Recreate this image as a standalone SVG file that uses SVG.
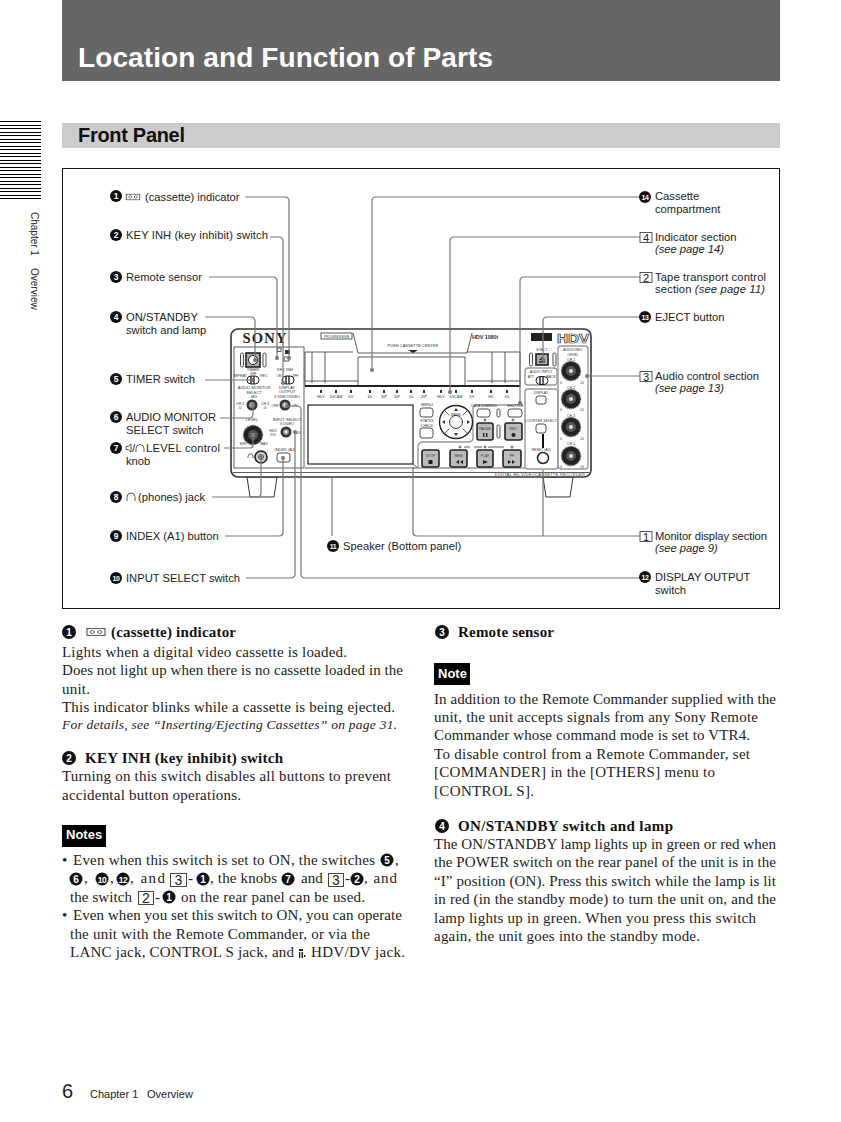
<svg xmlns="http://www.w3.org/2000/svg" xmlns:xlink="http://www.w3.org/1999/xlink" width="841" height="1122" viewBox="0 0 841 1122">
<style>
text{font-family:"Liberation Sans",Arial,sans-serif;fill:#222}
.l{font-size:11.200px}
.li{font-size:11.200px;font-style:italic}
.b{font-family:"Liberation Serif","Times New Roman",serif;font-size:15px}
.bb{font-family:"Liberation Serif","Times New Roman",serif;font-size:15px;font-weight:bold;fill:#111}
.bi{font-family:"Liberation Serif","Times New Roman",serif;font-size:13.500px;font-style:italic}
.n{font-size:8.500px;font-weight:bold;fill:#fff;text-anchor:middle}
.nb{font-size:10px;font-weight:bold;fill:#fff;text-anchor:middle}
.nc{font-size:7px;font-weight:bold;fill:#fff;text-anchor:middle;letter-spacing:-.5px}
.d{font-size:4px;fill:#333;text-anchor:middle}
.ds{font-size:3.500px;fill:#333;text-anchor:middle}
.box{fill:#fff;stroke:#444;stroke-width:.9}
.boxb{fill:#fff;stroke:#444;stroke-width:1}
.ln{fill:none;stroke:#333;stroke-width:.8}
.lnt{fill:none;stroke:#222;stroke-width:1.200}
.pan{fill:none;stroke:#999;stroke-width:1.400}
.c{fill:none;stroke:#777;stroke-width:1.200}
.dot{fill:#777}
.bar{stroke:#000;stroke-width:1}
.btn{fill:#fff;stroke:#333;stroke-width:.9}
.btnd{fill:#bbb;stroke:#222;stroke-width:1.600}
</style>
<defs>
<g id="knob"><circle r="5.500" fill="#333"/><circle r="3" fill="#999"/><circle r="1.400" fill="#eee"/></g>
<g id="kb"><circle r="9.500" fill="#222" stroke="#555" stroke-dasharray="1.200 .8" stroke-width="1.400"/><circle r="5" fill="#555"/><circle r="2" fill="#ddd"/></g>
<g id="sw"><rect x="-6" y="-4" width="12" height="8" rx="4" fill="#fff" stroke="#222" stroke-width="1"/><path d="M-2-4V4M1-4V4" stroke="#222" stroke-width="1.400"/></g>
<g id="cas"><rect x="-7.500" y="-3.500" width="15" height="7" fill="none" stroke="#333" stroke-width=".8"/><circle cx="-3" r="1.600" fill="none" stroke="#333" stroke-width=".7"/><circle cx="3" r="1.600" fill="none" stroke="#333" stroke-width=".7"/></g>
</defs>
<rect width="841" height="1122" fill="#fff"/>

<g id="page-header">
<rect x="62" y="0" width="718" height="81" fill="#666"/>
<text x="78" y="67" font-size="28" font-weight="bold" style="fill:#fff" textLength="415">Location and Function of Parts</text>
<rect x="62" y="123" width="718" height="25" fill="#ccc"/>
<text x="78" y="142" font-size="20" font-weight="bold" style="fill:#111" textLength="107">Front Panel</text>
<path class="bar" d="M0 121.500H41M0 125.500H41M0 128.500H41M0 132.500H41M0 135.500H41M0 139.500H41M0 142.500H41M0 146.500H41M0 149.500H41M0 153.500H41M0 156.500H41M0 160.500H41M0 163.500H41M0 167.500H41M0 170.500H41M0 174.500H41M0 177.500H41M0 181.500H41M0 184.500H41M0 188.500H41M0 191.500H41M0 195.500H41M0 198.500H41"/>
<text transform="translate(31 212) rotate(90)" font-size="10">Chapter 1<tspan x="56">Overview</tspan></text>
<rect x="62.500" y="168.500" width="717" height="440" fill="none" stroke="#111" stroke-width="1"/>
</g>

<g id="device">
<path d="M247 477l3 20h24l3-20zM543 477l3 20h24l3-20z" fill="#fff" stroke="#333" stroke-width="1"/>
<rect x="231" y="329" width="360" height="148" rx="7" fill="#fff" stroke="#333" stroke-width="1.600"/>
<path class="ln" d="M233 472.500H589"/>
<rect x="234" y="347" width="70" height="121" class="ln"/>
<text x="265" y="343" font-size="14.500" font-weight="bold" text-anchor="middle" style="font-family:'Liberation Serif',serif;letter-spacing:1px" textLength="45">SONY</text>
<rect x="321" y="333" width="31" height="6" class="ln"/>
<text x="336.500" y="338" class="ds">PROGRESSIVE</text>
<path class="ln" d="M353 333L358 353H467L472 333"/>
<path class="ln" d="M305 352H353M305 387V352M358 357V387M358 357H465V387M467 352H520M520 352V387M312 352V383M325 352V383M505 352V383M492 352V383M305 381H358M467 381H520"/>
<text x="413" y="347" class="d">PUSH CASSETTE CENTER</text>
<path d="M408 350h10l-5 3z" fill="#222"/>
<rect x="305" y="385" width="215" height="2" fill="#222"/>
<g>
<text x="321" y="397.500" class="ds">HDV</text><text x="336" y="397.500" class="ds">DVCAM</text><text x="351" y="397.500" class="ds">DV</text><text x="370" y="397.500" class="ds">60i</text><text x="384" y="397.500" class="ds">30P</text><text x="397" y="397.500" class="ds">24P</text><text x="411" y="397.500" class="ds">50i</text><text x="424" y="397.500" class="ds">25P</text><text x="441" y="397.500" class="ds">HDV</text><text x="456" y="397.500" class="ds">DVCAM</text><text x="472" y="397.500" class="ds">DV</text><text x="491" y="397.500" class="ds">HD</text><text x="507" y="397.500" class="ds">SD</text>
</g>
<path d="M320 390h2v3h-2zM335 390h2v3h-2zM350 390h2v3h-2zM369 390h2v3h-2zM383 390h2v3h-2zM396 390h2v3h-2zM410 390h2v3h-2zM423 390h2v3h-2zM440 390h2v3h-2zM455 390h2v3h-2zM471 390h2v3h-2zM490 390h2v3h-2zM506 390h2v3h-2z" fill="#333"/>
<rect x="308" y="405" width="105" height="59" class="lnt"/>
<path class="ln" d="M305 468H418M413 464L418 468"/>
<text x="472" y="338.500" font-size="5.500" font-weight="bold" style="fill:#333" textLength="26">HDV 1080i</text>
<rect x="531" y="333" width="21" height="8" fill="#222"/>
<text x="557" y="343" font-size="13" font-weight="bold" style="fill:#fff;stroke:#222;stroke-width:.7" textLength="32" lengthAdjust="spacingAndGlyphs">HDV</text>

<rect x="246" y="353" width="14" height="14" fill="#aaa" stroke="#222" stroke-width="1.600"/>
<circle cx="253" cy="360" r="4.500" fill="#fff" stroke="#222" stroke-width="1"/>
<rect x="240.500" y="353" width="3" height="14" rx="1.500" class="btn"/><rect x="263" y="353" width="3" height="14" rx="1.500" class="btn"/>
<rect x="277.500" y="348" width="3.500" height="3.500" class="ln"/><rect x="285" y="350" width="5" height="4" fill="#333"/><rect x="284" y="357" width="5" height="4" class="ln"/>
<text x="253" y="371" class="d">TIMER</text><text x="253" y="375" class="ds">OFF</text>
<text x="240" y="376.500" class="ds">REPEAT</text><text x="264" y="376.500" class="ds">REC</text>
<use xlink:href="#sw" href="#sw" x="253" y="380"/>
<text x="285" y="371" class="d">KEY INH</text><text x="279" y="376.500" class="ds">ON</text><text x="295" y="376.500" class="ds">OFF</text>
<use xlink:href="#sw" href="#sw" x="288" y="380"/>
<text x="254" y="389" class="d">AUDIO MONITOR</text><text x="254" y="393.500" class="d">SELECT</text><text x="254" y="397.500" class="ds">MIX</text>
<use xlink:href="#knob" href="#knob" x="252" y="405"/>
<text x="240" y="405" class="ds">CH-1</text><text x="240" y="409" class="ds">/2</text><text x="265" y="405" class="ds">CH-3</text><text x="265" y="409" class="ds">/4</text>
<text x="287" y="388.500" class="d">DISPLAY</text><text x="287" y="393" class="d">OUTPUT</text><text x="287" y="397.500" class="ds">S VIDEO/VIDEO</text>
<use xlink:href="#knob" href="#knob" x="285" y="405"/><text x="275" y="407" class="ds">OFF</text><text x="295" y="407" class="ds">ON</text>
<text x="287" y="421" class="d">INPUT SELECT</text><text x="287" y="425" class="ds">S VIDEO</text>
<use xlink:href="#knob" href="#knob" x="286" y="432"/><text x="273" y="432" class="ds">HDV</text><text x="273" y="436" class="ds">/DV</text><text x="298" y="434" class="ds">A/V</text>
<text x="252" y="421" class="d">LEVEL</text>
<use xlink:href="#kb" href="#kb" x="253" y="435"/><text x="243" y="445" class="ds">MIN</text><text x="264" y="445" class="ds">MAX</text>
<circle cx="261" cy="457" r="6" fill="#ccc" stroke="#222" stroke-width="1.600"/><circle cx="261" cy="457" r="2.500" fill="#fff" stroke="#333" stroke-width=".8"/>
<path class="ln" d="M248 458v-1.500a2.500 2.500 0 0 1 5 0v1.500"/>
<text x="285" y="450.500" class="d">INDEX (A1)</text><rect x="277" y="453" width="13" height="9" rx="2.500" class="btn"/>

<path class="pan" d="M473 438V409a4 4 0 0 1 4-4H523M473 438Q473 442 468 442H423Q418 442 418 447V468M418 468H526"/>
<text x="427" y="406" class="d">MENU</text><rect x="420" y="408" width="13" height="9" rx="2.500" class="btn"/>
<text x="427" y="422" class="ds">STATUS</text><text x="427" y="426.500" class="ds">CHECK</text><rect x="420" y="428" width="13" height="10" rx="2.500" class="btn"/>
<circle cx="456" cy="422" r="16.500" fill="#fff" stroke="#222" stroke-width="1.400"/><circle cx="456" cy="422" r="6.500" fill="#fff" stroke="#333" stroke-width="1"/>
<path d="M456 408l-2 3h4zM456 436l-2-3h4zM442 422l3-2v4zM470 422l-3-2v4z" fill="#333"/>
<path class="ln" d="M444.500 410.500l5 5M467.500 410.500l-5 5M444.500 433.500l5-5M467.500 433.500l-5-5"/>
<text x="456" y="416" class="ds">MARK</text>
<text x="484" y="406.500" class="ds">DATA DUBBING</text><rect x="477" y="409" width="13" height="8" rx="2.500" class="btn"/>
<rect x="497" y="409" width="3" height="8" rx="1.500" class="btn"/>
<text x="515" y="406.500" class="ds">SHUTTLE</text><rect x="508" y="409" width="14" height="8" rx="2.500" class="btn"/>
<circle cx="485" cy="420" r="1" class="ln"/><circle cx="513" cy="420" r="1" class="ln"/>
<rect x="477" y="423" width="16" height="17" rx="2" class="btnd"/><text x="485" y="430" class="ds">PAUSE</text><path d="M483 433h1.400v4H483zM486 433h1.400v4H486z" fill="#222"/>
<rect x="497" y="425" width="3" height="13" rx="1.500" class="btn"/>
<rect x="505" y="423" width="17" height="17" rx="2" class="btnd"/><text x="513.500" y="430" class="ds">REC</text><circle cx="513.500" cy="435" r="2" fill="#222"/>
<rect x="422" y="450" width="17" height="17" rx="2" class="btnd"/><text x="430.500" y="457" class="ds">STOP</text><rect x="428.500" y="460" width="4" height="4" fill="#222"/>
<rect x="450" y="450" width="17" height="17" rx="2" class="btnd"/><text x="458.500" y="457" class="ds">REW</text><path d="M459 460v4l-3-2zM463 460v4l-3-2z" fill="#222"/>
<rect x="477" y="450" width="16" height="17" rx="2" class="btnd"/><text x="485" y="457" class="ds">PLAY</text><path d="M483 460v4l5-2z" fill="#222"/>
<rect x="503" y="450" width="18" height="17" rx="2" class="btnd"/><text x="512" y="457" class="ds">FF</text><path d="M508 460v4l3-2zM512 460v4l3-2z" fill="#222"/>
<path class="ln" d="M464 447H470M474 447H482M488 447H504"/>
<circle cx="460" cy="447" r="1" class="ln"/><circle cx="485" cy="447" r="1" class="ln"/><circle cx="512" cy="447" r="1" class="ln"/>

<rect x="536" y="354" width="12" height="11" fill="#aaa" stroke="#222" stroke-width="1.600"/><path d="M539 360l3-3 3 3zM539 361h6v1.500h-6z" fill="#222"/>
<text x="542" y="351" class="ds">EJECT</text>
<rect x="529.500" y="353" width="3" height="13" rx="1.500" class="btn"/><rect x="553" y="353" width="3" height="13" rx="1.500" class="btn"/>
<rect x="525" y="368" width="32" height="17" rx="3" class="pan"/>
<text x="541" y="373" class="ds">AUDIO INPUT</text><text x="531" y="378" class="ds">ATT</text><text x="551" y="378" class="ds">BACK</text>
<use xlink:href="#sw" href="#sw" x="542" y="380.500"/>
<rect x="525" y="389" width="33" height="80" rx="3" class="pan"/>
<text x="541" y="394" class="ds">DISPLAY</text><rect x="536" y="396" width="10" height="8" rx="2.500" class="btn"/>
<text x="541" y="422" class="ds">COUNTER SELECT</text><rect x="536" y="424" width="10" height="9" rx="2.500" class="btn"/>
<rect x="542" y="434" width="2" height="14" fill="#111"/>
<text x="541" y="451" class="ds">RESET (A3)</text>
<circle cx="543" cy="458" r="5.500" fill="#fff" stroke="#222" stroke-width="1.500"/>
<rect x="558" y="346" width="30" height="123" rx="3" class="pan"/>
<text x="573" y="351" class="ds">AUDIO REC</text><text x="573" y="355.500" class="ds">LEVEL</text>
<text x="571" y="360.500" class="ds">CH-1</text><use xlink:href="#kb" href="#kb" x="571" y="371"/><text x="561" y="384" class="ds">0</text><text x="582" y="384" class="ds">10</text>
<text x="571" y="388.500" class="ds">CH-2</text><use xlink:href="#kb" href="#kb" x="571" y="399"/><text x="561" y="411" class="ds">0</text><text x="582" y="411" class="ds">10</text>
<text x="571" y="416.500" class="ds">CH-3</text><use xlink:href="#kb" href="#kb" x="571" y="427"/><text x="561" y="440" class="ds">0</text><text x="582" y="440" class="ds">10</text>
<text x="571" y="445" class="ds">CH-4</text><use xlink:href="#kb" href="#kb" x="571" y="456"/><text x="561" y="468" class="ds">0</text><text x="582" y="468" class="ds">10</text>
<text x="540" y="476" class="d" style="letter-spacing:.3px">DIGITAL HD VIDEOCASSETTE RECORDER</text>
</g>

<g id="connectors">
<path class="c" d="M245 197H285Q289 197 289 201V358"/>
<path class="c" d="M270 237H279Q283 237 283 241V383"/>
<path class="c" d="M209 277H273Q277 277 277 281V358"/>
<path class="c" d="M205 317H251Q255 317 255 321V360"/>
<path class="c" d="M205 380H250"/>
<path class="c" d="M220 418H249Q253 418 253 414V406"/>
<path class="c" d="M224 448H250Q253 448 253 445V436"/>
<path class="c" d="M212 497H257Q261 497 261 493V458"/>
<path class="c" d="M225 536H279Q283 536 283 532V458"/>
<path class="c" d="M246 578H291Q295 578 295 574V433"/>
<path class="c" d="M287 406H297Q301 406 301 410V574Q301 578 305 578H640"/>
<path class="c" d="M332 478V536"/>
<path class="c" d="M640 197H376Q372 197 372 201V370"/>
<path class="c" d="M640 237H454Q450 237 450 241V392"/>
<path class="c" d="M640 277H524Q520 277 520 281V403"/>
<path class="c" d="M640 317H547Q543 317 543 321V360"/>
<path class="c" d="M640 376H587"/>
<path class="c" d="M413 467V532Q413 536 417 536H640"/>
<path class="c" d="M543 470V536"/>
<circle class="dot" cx="277" cy="358" r="2"/><circle class="dot" cx="289" cy="358" r="2"/><circle class="dot" cx="372" cy="370" r="2"/><circle class="dot" cx="255" cy="360" r="2"/>
<circle class="dot" cx="283" cy="383" r="2"/><circle class="dot" cx="253" cy="380" r="2"/><circle class="dot" cx="253" cy="405" r="2"/><circle class="dot" cx="253" cy="435" r="2"/><circle class="dot" cx="261" cy="457" r="2"/><circle class="dot" cx="283" cy="458" r="2"/><circle class="dot" cx="287" cy="406" r="2"/><circle class="dot" cx="295" cy="432" r="2"/><circle class="dot" cx="450" cy="392" r="2"/><circle class="dot" cx="520" cy="403" r="2"/><circle class="dot" cx="543" cy="360" r="2"/><circle class="dot" cx="587" cy="376" r="2"/>
</g>

<g id="n1"><circle cx="116" cy="196" r="6" fill="#111"/><text x="116" y="199" class="n">1</text><use xlink:href="#cas" href="#cas" transform="translate(133 197) scale(.9 .8)"/><text x="145" y="201" class="l">(cassette) indicator</text></g>
<g id="n2"><circle cx="116" cy="235" r="6" fill="#111"/><text x="116" y="238" class="n">2</text><text x="126" y="239" class="l" textLength="142">KEY INH (key inhibit) switch</text></g>
<g id="n3"><circle cx="116" cy="277" r="6" fill="#111"/><text x="116" y="280" class="n">3</text><text x="126" y="281" class="l">Remote sensor</text></g>
<g id="n4"><circle cx="116" cy="317" r="6" fill="#111"/><text x="116" y="320" class="n">4</text><text x="126" y="321" class="l">ON/STANDBY</text><text x="126" y="334" class="l">switch and lamp</text></g>
<g id="n5"><circle cx="116" cy="379" r="6" fill="#111"/><text x="116" y="382" class="n">5</text><text x="126" y="383" class="l">TIMER switch</text></g>
<g id="n6"><circle cx="116" cy="417" r="6" fill="#111"/><text x="116" y="420" class="n">6</text><text x="126" y="421" class="l" textLength="90">AUDIO MONITOR</text><text x="126" y="434" class="l">SELECT switch</text></g>
<g id="n7"><circle cx="116" cy="448" r="6" fill="#111"/><text x="116" y="451" class="n">7</text><path class="ln" d="M126 446.500h2l3-2.500v8l-3-2.500h-2z"/><text x="132" y="452" class="l">/</text><path class="ln" d="M136 452v-3.500a4 4 0 0 1 8 0v3.500"/><text x="146" y="452" class="l" textLength="74">LEVEL control</text><text x="126" y="465" class="l">knob</text></g>
<g id="n8"><circle cx="116" cy="497" r="6" fill="#111"/><text x="116" y="500" class="n">8</text><path class="ln" d="M127 501v-4a4 4 0 0 1 8 0v4"/><text x="138" y="501" class="l">(phones) jack</text></g>
<g id="n9"><circle cx="116" cy="536" r="6" fill="#111"/><text x="116" y="539" class="n">9</text><text x="126" y="540" class="l">INDEX (A1) button</text></g>
<g id="n10"><circle cx="116" cy="578" r="6" fill="#111"/><text x="116" y="581" class="nc">10</text><text x="126" y="582" class="l">INPUT SELECT switch</text></g>
<g id="n11"><circle cx="333" cy="546" r="6" fill="#111"/><text x="333" y="549" class="nc">11</text><text x="343" y="550" class="l">Speaker (Bottom panel)</text></g>
<g id="n12"><circle cx="645" cy="577" r="6" fill="#111"/><text x="645" y="580" class="nc">12</text><text x="655" y="581" class="l">DISPLAY OUTPUT</text><text x="655" y="594" class="l">switch</text></g>
<g id="n13"><circle cx="645" cy="317" r="6" fill="#111"/><text x="645" y="320" class="nc">13</text><text x="655" y="321" class="l">EJECT button</text></g>
<g id="n14"><circle cx="645" cy="197" r="6" fill="#111"/><text x="645" y="200" class="nc">14</text><text x="655" y="200" class="l">Cassette</text><text x="655" y="213" class="l">compartment</text></g>
<g id="s4"><rect x="640" y="232.500" width="12" height="10" class="box"/><text x="646" y="241.500" class="l" text-anchor="middle">4</text><text x="655" y="241" class="l">Indicator section</text><text x="655" y="253" class="li">(see page 14)</text></g>
<g id="s2"><rect x="640" y="272.500" width="12" height="10" class="box"/><text x="646" y="281.500" class="l" text-anchor="middle">2</text><text x="655" y="281" class="l" textLength="111">Tape transport control</text><text x="655" y="293" class="l" textLength="110">section <tspan class="li">(see page 11)</tspan></text></g>
<g id="s3"><rect x="640" y="371.500" width="12" height="10" class="box"/><text x="646" y="380.500" class="l" text-anchor="middle">3</text><text x="655" y="380" class="l">Audio control section</text><text x="655" y="392" class="li">(see page 13)</text></g>
<g id="s1"><rect x="640" y="531.500" width="12" height="10" class="box"/><text x="646" y="540.500" class="l" text-anchor="middle">1</text><text x="655" y="540" class="l" textLength="112">Monitor display section</text><text x="655" y="552" class="li">(see page 9)</text></g>

<g id="body-left">
<circle cx="69" cy="632" r="7" fill="#111"/><text x="69" y="636" class="nb">1</text>
<use xlink:href="#cas" href="#cas" transform="translate(96 632) scale(1.200 1)"/>
<text x="111" y="637" class="bb" textLength="125">(cassette) indicator</text>
<text x="62" y="657" class="b" textLength="285">Lights when a digital video cassette is loaded.</text>
<text x="62" y="675" class="b" textLength="341">Does not light up when there is no cassette loaded in the</text>
<text x="62" y="694" class="b" textLength="28">unit.</text>
<text x="62" y="712" class="b" textLength="333">This indicator blinks while a cassette is being ejected.</text>
<text x="62" y="729" class="bi" textLength="335">For details, see “Inserting/Ejecting Cassettes” on page 31.</text>
<circle cx="69" cy="758" r="7" fill="#111"/><text x="69" y="762" class="nb">2</text>
<text x="85" y="763" class="bb" textLength="198">KEY INH (key inhibit) switch</text>
<text x="62" y="781" class="b" textLength="329">Turning on this switch disables all buttons to prevent</text>
<text x="62" y="800" class="b" textLength="179">accidental button operations.</text>
<rect x="62" y="825" width="44" height="22" fill="#000"/><text x="66" y="839" font-size="13" font-weight="bold" style="fill:#fff">Notes</text>
<text x="62" y="865" class="b">•</text><text x="73" y="865" class="b" textLength="302">Even when this switch is set to ON, the switches</text>
<circle cx="387" cy="860" r="6.500" fill="#111"/><text x="387" y="864" class="nb">5</text><text x="395" y="865" class="b">,</text>
<circle cx="76" cy="879" r="6.500" fill="#111"/><text x="76" y="883" class="nb">6</text><text x="84" y="883" class="b">,</text>
<circle cx="102" cy="879" r="6.500" fill="#111"/><text x="102" y="882.500" class="nc" style="font-size:8.500px">10</text><text x="110" y="883" class="b">,</text>
<circle cx="123" cy="879" r="6.500" fill="#111"/><text x="123" y="882.500" class="nc" style="font-size:8.500px">12</text>
<text x="130" y="883" class="b" textLength="35">, and</text>
<rect x="170.500" y="873.500" width="16" height="13" class="boxb"/><text x="178.500" y="885" font-size="14" text-anchor="middle">3</text><text x="188" y="883" class="b">-</text>
<circle cx="203" cy="879" r="6.500" fill="#111"/><text x="203" y="883" class="nb">1</text>
<text x="210" y="883" class="b" textLength="67">, the knobs</text>
<circle cx="288" cy="879" r="6.500" fill="#111"/><text x="288" y="883" class="nb">7</text>
<text x="301" y="883" class="b">and</text>
<rect x="328.500" y="873.500" width="15" height="13" class="boxb"/><text x="336" y="885" font-size="14" text-anchor="middle">3</text><text x="345" y="883" class="b">-</text>
<circle cx="357" cy="879" r="6.500" fill="#111"/><text x="357" y="883" class="nb">2</text>
<text x="364" y="883" class="b" textLength="33">, and</text>
<text x="70" y="902" class="b" textLength="62">the switch</text>
<rect x="138.500" y="891.500" width="15" height="13" class="boxb"/><text x="146" y="903" font-size="14" text-anchor="middle">2</text><text x="155" y="902" class="b">-</text>
<circle cx="169" cy="897" r="6.500" fill="#111"/><text x="169" y="901" class="nb">1</text>
<text x="181" y="902" class="b" textLength="184">on the rear panel can be used.</text>
<text x="62" y="920" class="b">•</text><text x="73" y="920" class="b" textLength="329">Even when you set this switch to ON, you can operate</text>
<text x="70" y="939" class="b" textLength="300">the unit with the Remote Commander, or via the</text>
<text x="70" y="957" class="b" textLength="224">LANC jack, CONTROL S jack, and</text>
<path d="M299 949h4v2h-4zM299 952h1.300v6h-1.300zM301.500 952h1.500v6h-1.500zM304 955h1.400v2H304z" fill="#222"/>
<text x="311" y="957" class="b" textLength="94">HDV/DV jack.</text>
</g>

<g id="body-right">
<circle cx="442" cy="632" r="7" fill="#111"/><text x="442" y="636" class="nb">3</text>
<text x="458" y="637" class="bb" textLength="96">Remote sensor</text>
<rect x="434" y="663" width="36" height="22" fill="#000"/><text x="438" y="678" font-size="13" font-weight="bold" style="fill:#fff">Note</text>
<text x="434" y="704" class="b" textLength="342">In addition to the Remote Commander supplied with the</text>
<text x="434" y="722" class="b" textLength="324">unit, the unit accepts signals from any Sony Remote</text>
<text x="434" y="740" class="b" textLength="316">Commander whose command mode is set to VTR4.</text>
<text x="434" y="759" class="b" textLength="316">To disable control from a Remote Commander, set</text>
<text x="434" y="777" class="b" textLength="281">[COMMANDER] in the [OTHERS] menu to</text>
<text x="434" y="796" class="b" textLength="100">[CONTROL S].</text>
<circle cx="442" cy="826" r="7" fill="#111"/><text x="442" y="830" class="nb">4</text>
<text x="458" y="831" class="bb" textLength="215">ON/STANDBY switch and lamp</text>
<text x="434" y="849" class="b" textLength="342">The ON/STANDBY lamp lights up in green or red when</text>
<text x="434" y="867" class="b" textLength="342">the POWER switch on the rear panel of the unit is in the</text>
<text x="434" y="886" class="b" textLength="342">“I” position (ON). Press this switch while the lamp is lit</text>
<text x="434" y="904" class="b" textLength="342">in red (in the standby mode) to turn the unit on, and the</text>
<text x="434" y="923" class="b" textLength="322">lamp lights up in green. When you press this switch</text>
<text x="434" y="941" class="b" textLength="266">again, the unit goes into the standby mode.</text>
</g>

<g id="footer">
<text x="62" y="1098" font-size="20">6</text>
<text x="90" y="1098" font-size="11">Chapter 1<tspan x="147">Overview</tspan></text>
</g>
</svg>
